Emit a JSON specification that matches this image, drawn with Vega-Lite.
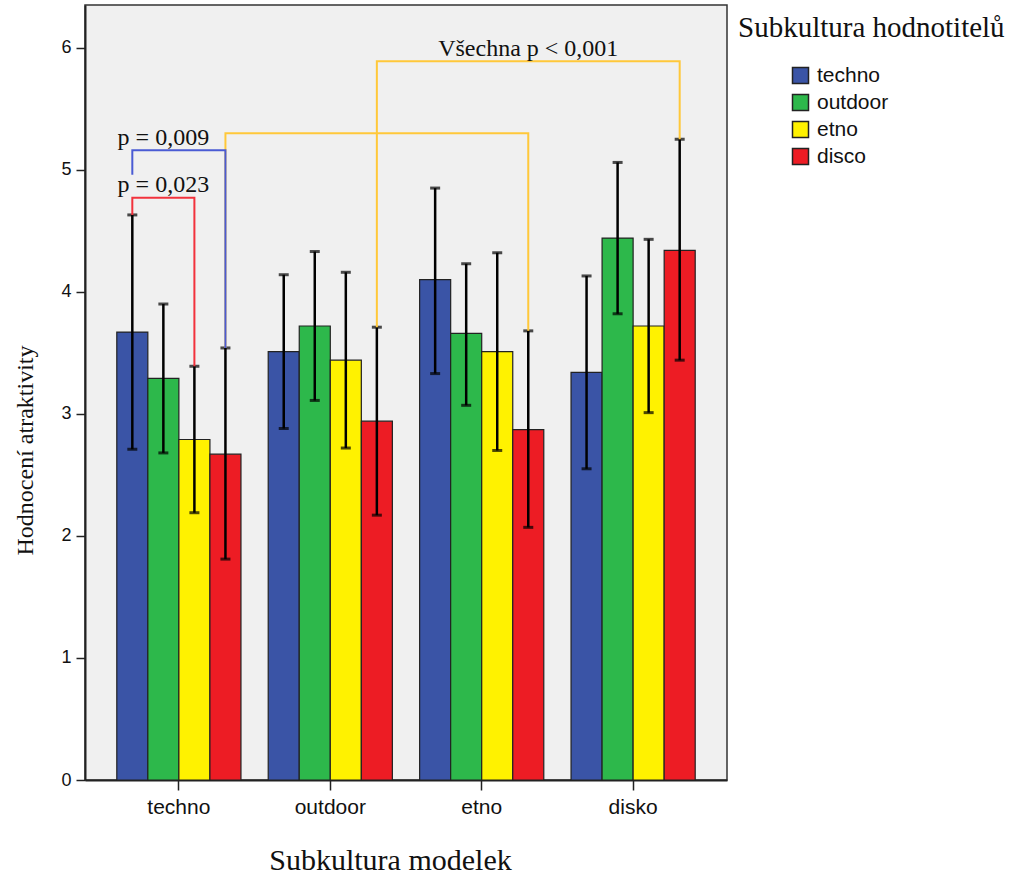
{
  "$schema": "https://vega.github.io/schema/vega-lite/v6.json",
  "width": 642,
  "height": 775,
  "autosize": {"type": "none"},
  "padding": {"left": 85, "top": 5, "right": 287, "bottom": 94},
  "background": "white",
  "config": {
    "view": {"fill": "#F0F0F0", "stroke": "#333333", "strokeWidth": 1.5},
    "axis": {
      "labelFont": "Liberation Sans",
      "titleFont": "Liberation Serif",
      "titleFontWeight": "normal",
      "labelColor": "#111111",
      "titleColor": "#111111",
      "domainColor": "#222222",
      "tickColor": "#222222",
      "domainWidth": 2,
      "tickWidth": 1.5,
      "grid": false
    }
  },
  "datasets": {
    "bars": [
      {"group": "techno", "rater": "techno", "mean": 3.67, "lo": 2.71, "hi": 4.63},
      {"group": "techno", "rater": "outdoor", "mean": 3.29, "lo": 2.68, "hi": 3.90},
      {"group": "techno", "rater": "etno", "mean": 2.79, "lo": 2.19, "hi": 3.39},
      {"group": "techno", "rater": "disco", "mean": 2.67, "lo": 1.81, "hi": 3.54},
      {"group": "outdoor", "rater": "techno", "mean": 3.51, "lo": 2.88, "hi": 4.14},
      {"group": "outdoor", "rater": "outdoor", "mean": 3.72, "lo": 3.11, "hi": 4.33},
      {"group": "outdoor", "rater": "etno", "mean": 3.44, "lo": 2.72, "hi": 4.16},
      {"group": "outdoor", "rater": "disco", "mean": 2.94, "lo": 2.17, "hi": 3.71},
      {"group": "etno", "rater": "techno", "mean": 4.10, "lo": 3.33, "hi": 4.85},
      {"group": "etno", "rater": "outdoor", "mean": 3.66, "lo": 3.07, "hi": 4.23},
      {"group": "etno", "rater": "etno", "mean": 3.51, "lo": 2.70, "hi": 4.32},
      {"group": "etno", "rater": "disco", "mean": 2.87, "lo": 2.07, "hi": 3.68},
      {"group": "disko", "rater": "techno", "mean": 3.34, "lo": 2.55, "hi": 4.13},
      {"group": "disko", "rater": "outdoor", "mean": 4.44, "lo": 3.82, "hi": 5.06},
      {"group": "disko", "rater": "etno", "mean": 3.72, "lo": 3.01, "hi": 4.43},
      {"group": "disko", "rater": "disco", "mean": 4.34, "lo": 3.44, "hi": 5.25}
    ],
    "brackets": [
      {"id": "y1", "seq": 1, "group": "techno", "rater": "disco", "y": 3.54},
      {"id": "y1", "seq": 2, "group": "techno", "rater": "disco", "y": 5.30},
      {"id": "y1", "seq": 3, "group": "etno", "rater": "disco", "y": 5.30},
      {"id": "y1", "seq": 4, "group": "etno", "rater": "disco", "y": 3.68},
      {"id": "b009", "seq": 1, "group": "techno", "rater": "techno", "y": 4.96},
      {"id": "b009", "seq": 2, "group": "techno", "rater": "techno", "y": 5.16},
      {"id": "b009", "seq": 3, "group": "techno", "rater": "disco", "y": 5.16},
      {"id": "b009", "seq": 4, "group": "techno", "rater": "disco", "y": 3.54},
      {"id": "y2", "seq": 1, "group": "outdoor", "rater": "disco", "y": 3.71},
      {"id": "y2", "seq": 2, "group": "outdoor", "rater": "disco", "y": 5.89},
      {"id": "y2", "seq": 3, "group": "disko", "rater": "disco", "y": 5.89},
      {"id": "y2", "seq": 4, "group": "disko", "rater": "disco", "y": 5.25},
      {"id": "r023", "seq": 1, "group": "techno", "rater": "techno", "y": 4.63},
      {"id": "r023", "seq": 2, "group": "techno", "rater": "techno", "y": 4.77},
      {"id": "r023", "seq": 3, "group": "techno", "rater": "etno", "y": 4.77},
      {"id": "r023", "seq": 4, "group": "techno", "rater": "etno", "y": 3.39}
    ],
    "labels": [
      {"label": "p = 0,023", "group": "techno", "rater": "outdoor", "y": 4.82},
      {"label": "p = 0,009", "group": "techno", "rater": "outdoor", "y": 5.20},
      {"label": "Všechna p < 0,001", "group": "etno", "rater": "disco", "y": 5.93}
    ]
  },
  "encoding": {
    "x": {
      "field": "group",
      "type": "nominal",
      "sort": ["techno", "outdoor", "etno", "disko"],
      "scale": {"paddingInner": 0.18, "paddingOuter": 0.21},
      "title": "Subkultura modelek",
      "axis": {
        "labelAngle": 0,
        "labelFontSize": 21,
        "tickSize": 10,
        "labelPadding": 6,
        "titleFontSize": 30,
        "titleX": 305,
        "titleY": 80,
        "titleAlign": "center",
        "titleBaseline": "middle"
      }
    },
    "xOffset": {
      "field": "rater",
      "type": "nominal",
      "sort": ["techno", "outdoor", "etno", "disco"],
      "scale": {"paddingInner": 0, "paddingOuter": 0}
    }
  },
  "layer": [
    {
      "data": {"name": "bars"},
      "mark": {"type": "bar", "stroke": "#222222", "strokeWidth": 1.2},
      "encoding": {
        "y": {
          "field": "mean",
          "type": "quantitative",
          "title": "Hodnocení atraktivity",
          "scale": {"domain": [0, 6.35], "nice": false},
          "axis": {
            "values": [0, 1, 2, 3, 4, 5, 6],
            "format": "d",
            "labelFontSize": 18,
            "tickSize": 9,
            "labelPadding": 5,
            "titleFontSize": 24,
            "titleX": -60,
            "titleY": 445,
            "titleBaseline": "middle",
            "titleAlign": "center"
          }
        },
        "color": {
          "field": "rater",
          "type": "nominal",
          "sort": ["techno", "outdoor", "etno", "disco"],
          "scale": {
            "domain": ["techno", "outdoor", "etno", "disco"],
            "range": ["#3A54A6", "#2DB84B", "#FFF200", "#ED1C24"]
          },
          "legend": {
            "orient": "none",
            "legendX": 653,
            "legendY": 9,
            "title": "Subkultura hodnotitelů",
            "titleFont": "Liberation Serif",
            "titleFontSize": 29,
            "titleFontWeight": "normal",
            "titleColor": "#111111",
            "titleLimit": 400,
            "titlePadding": 22,
            "labelFont": "Liberation Sans",
            "labelFontSize": 21,
            "labelColor": "#111111",
            "symbolType": "square",
            "symbolSize": 256,
            "symbolStrokeColor": "#222222",
            "symbolStrokeWidth": 1.5,
            "symbolOpacity": 1,
            "symbolOffset": 52,
            "labelOffset": 6,
            "rowPadding": 4
          }
        }
      }
    },
    {
      "data": {"name": "bars"},
      "mark": {"type": "rule", "color": "#000000", "strokeWidth": 2.5},
      "encoding": {
        "y": {"field": "lo", "type": "quantitative", "title": "Hodnocení atraktivity"},
        "y2": {"field": "hi"}
      }
    },
    {
      "data": {"name": "bars"},
      "mark": {"type": "tick", "orient": "horizontal", "color": "#000000", "size": 10, "thickness": 3},
      "encoding": {
        "y": {"field": "lo", "type": "quantitative", "title": "Hodnocení atraktivity"}
      }
    },
    {
      "data": {"name": "bars"},
      "mark": {"type": "tick", "orient": "horizontal", "color": "#000000", "size": 10, "thickness": 3},
      "encoding": {
        "y": {"field": "hi", "type": "quantitative", "title": "Hodnocení atraktivity"}
      }
    },
    {
      "data": {"name": "brackets"},
      "mark": {"type": "line", "strokeWidth": 2},
      "encoding": {
        "y": {"field": "y", "type": "quantitative", "title": "Hodnocení atraktivity"},
        "order": {"field": "seq", "type": "quantitative"},
        "detail": {"field": "id", "type": "nominal"},
        "stroke": {
          "field": "id",
          "type": "nominal",
          "scale": {
            "domain": ["y1", "b009", "y2", "r023"],
            "range": ["#FFC83A", "#4A5BD4", "#FFC83A", "#F2323C"]
          },
          "legend": null
        }
      }
    },
    {
      "data": {"name": "labels"},
      "mark": {"type": "text", "font": "Liberation Serif", "fontSize": 24, "align": "center", "baseline": "alphabetic", "color": "#111111"},
      "encoding": {
        "y": {"field": "y", "type": "quantitative", "title": "Hodnocení atraktivity"},
        "text": {"field": "label", "type": "nominal"}
      }
    }
  ]
}
